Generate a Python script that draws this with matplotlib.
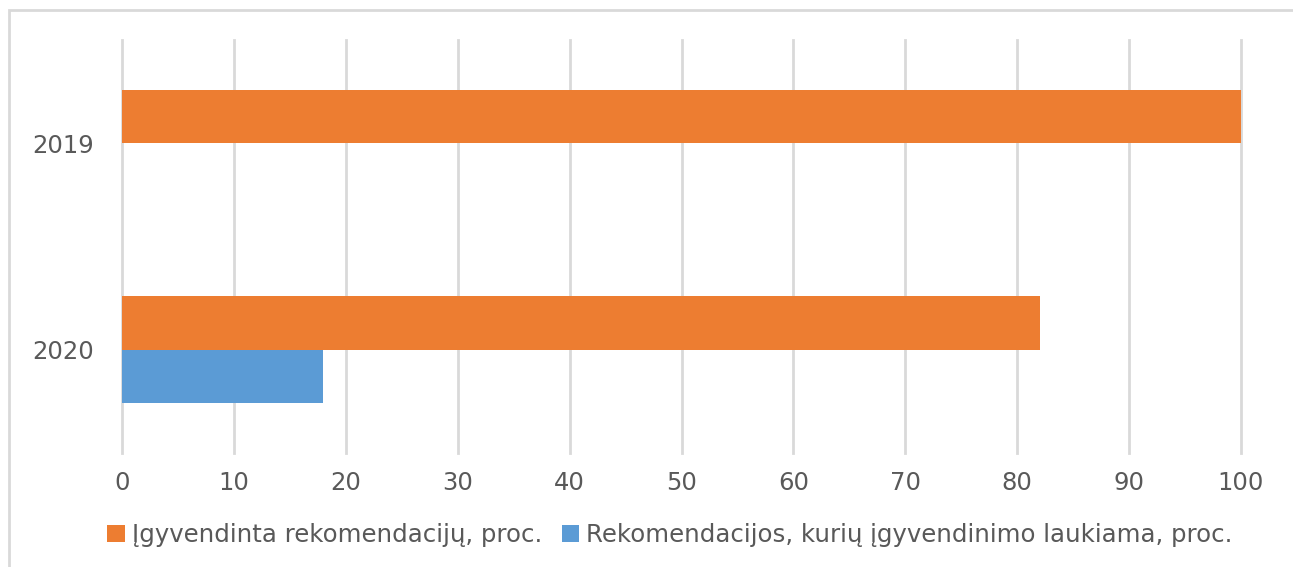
import matplotlib.pyplot as plt
from matplotlib.patches import Rectangle
import numpy as np

years = ['2020', '2019']
implemented = [82, 100]
pending = [18, 0]
labels = ['Įgyvendinta rekomendacijų, proc.',
          'Rekomendacijos, kurių įgyvendinimo laukiama, proc.']
xticks = list(range(0, 101, 10))

orange = '#ED7D31'
blue = '#5B9BD5'
txt = '#595959'
grid = '#D9D9D9'

fig = plt.figure(figsize=(12.93, 5.67), dpi=100)
fig.patches.append(Rectangle((9 / 1293, -0.1), 1.2, 1 - 10 / 567 + 0.1,
                             transform=fig.transFigure, fill=False,
                             edgecolor=grid, linewidth=2))
ax = fig.add_axes([122 / 1293, 1 - 453 / 567, (1241 - 122) / 1293, (453 - 40) / 567])

y = np.arange(len(years))
h = 0.26
b1 = ax.barh(y + h / 2, implemented, height=h, color=orange, label=labels[0], zorder=3)
b2 = ax.barh(y - h / 2, pending, height=h, color=blue, label=labels[1], zorder=3)

ax.set_xlim(0, 100)
ax.set_ylim(-0.5, 1.5)
ax.set_xticks(xticks)
ax.set_yticks(y)
ax.set_yticklabels(years)
for g in xticks:
    ax.axvline(g, color=grid, linewidth=2, zorder=0, clip_on=False)
for s in ax.spines.values():
    s.set_visible(False)
ax.tick_params(axis='both', length=0, labelsize=17.5, labelcolor=txt)
ax.tick_params(axis='x', pad=13)
ax.tick_params(axis='y', pad=20)

fig.legend(handles=[b1, b2], loc='center', bbox_to_anchor=(670 / 1293, 1 - 535 / 567),
           ncol=2, frameon=False, handlelength=0.7, handleheight=0.7,
           handletextpad=0.3, columnspacing=0.8,
           prop={'family': ['Liberation Sans Narrow', 'DejaVu Sans'], 'size': 17.6},
           labelcolor=txt)

fig.savefig('out.png', dpi=100)
